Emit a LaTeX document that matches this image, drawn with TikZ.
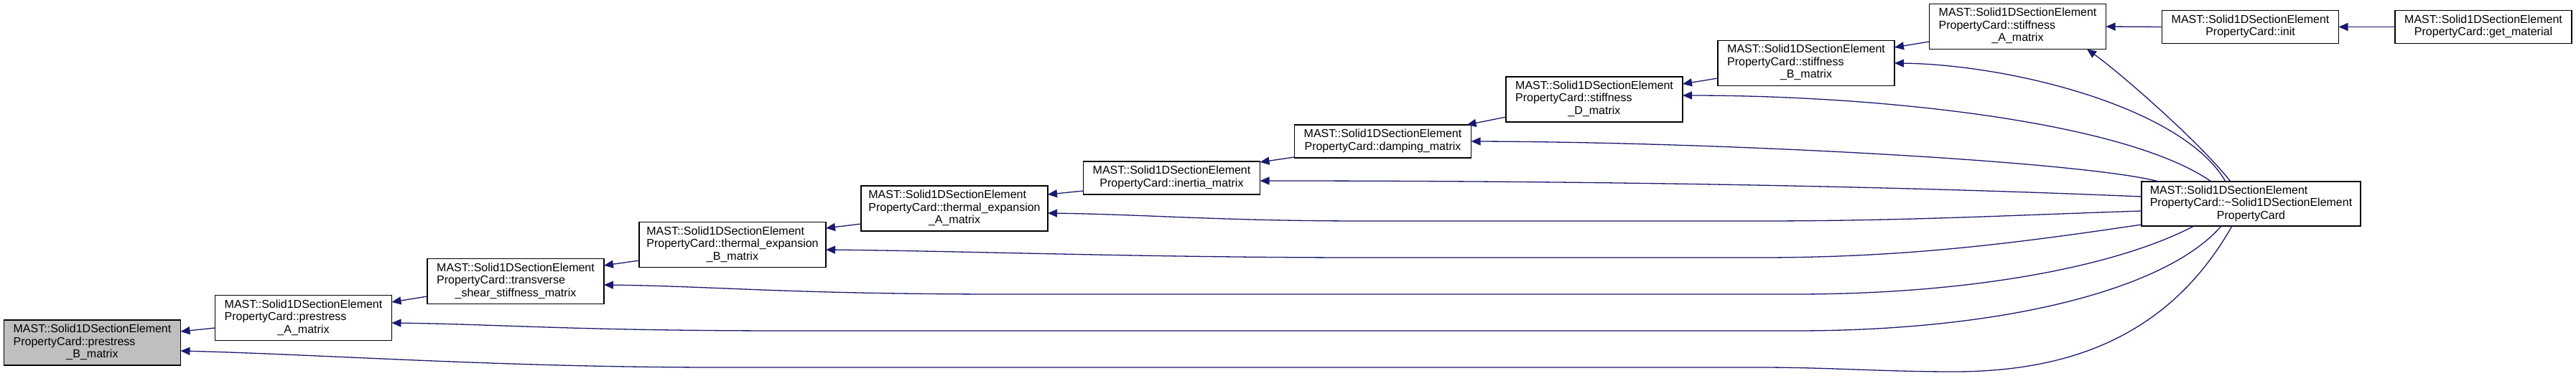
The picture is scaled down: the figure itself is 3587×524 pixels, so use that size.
\documentclass[tikz,border=0pt]{standalone}
\usepackage{fontspec}
\setmainfont{Liberation Sans}
\usetikzlibrary{arrows.meta, positioning, calc}

\definecolor{edgeblue}{HTML}{191970}
\definecolor{hlgray}{HTML}{BFBFBF}

\newcommand{\masttwo}[1]{%
  \begin{tabular}{@{}l@{}}MAST::Solid1DSectionElement\\
  \multicolumn{1}{@{}c@{}}{#1}\end{tabular}}
\newcommand{\mastthree}[2]{%
  \begin{tabular}{@{}l@{}}MAST::Solid1DSectionElement\\#1\\
  \multicolumn{1}{@{}c@{}}{#2}\end{tabular}}

\begin{document}
\begin{tikzpicture}[
  x=1pt, y=-1pt,
  fn/.style={
    rectangle,
    draw=black,
    line width=1.3pt,
    fill=white,
    minimum width=246pt,
    minimum height=63pt,
    inner xsep=10pt,
    inner ysep=0pt,
    outer sep=0pt,
    font=\fontsize{16}{17.5}\selectfont
  },
  fntwo/.style={
    fn,
    minimum height=46pt
  },
  hl/.style={
    fn,
    fill=hlgray
  },
  arrow/.style={-{Triangle[length=13pt, width=11pt, fill=edgeblue]}, line width=1.3pt, draw=edgeblue}
]

\useasboundingbox (0,0) rectangle (3587,524);

% ------------------------------------------------------------
% Member functions
% ------------------------------------------------------------

\node[hl] (prestB) at (128.5,477.5) {\mastthree{PropertyCard::prestress}{\_B\_matrix}};
\node[fn] (prestA) at (422.5,443) {\mastthree{PropertyCard::prestress}{\_A\_matrix}};
\node[fn] (transv) at (718,392) {\mastthree{PropertyCard::transverse}{\_shear\_stiffness\_matrix}};
\node[fn, minimum width=260pt] (thermB) at (1020,341) {\mastthree{PropertyCard::thermal\_expansion}{\_B\_matrix}};
\node[fn, minimum width=260pt] (thermA) at (1329,290.5) {\mastthree{PropertyCard::thermal\_expansion}{\_A\_matrix}};
\node[fntwo] (inertia) at (1631.5,248) {\masttwo{PropertyCard::inertia\_matrix}};
\node[fntwo] (damping) at (1925.5,197) {\masttwo{PropertyCard::damping\_matrix}};
\node[fn] (stiffD) at (2220,138.5) {\mastthree{PropertyCard::stiffness}{\_D\_matrix}};
\node[fn] (stiffB) at (2515,88) {\mastthree{PropertyCard::stiffness}{\_B\_matrix}};
\node[fn] (stiffA) at (2809.5,37) {\mastthree{PropertyCard::stiffness}{\_A\_matrix}};
\node[fntwo] (init) at (3133.5,37.5) {\masttwo{PropertyCard::init}};
\node[fntwo] (getmat) at (3458,37.5) {\masttwo{PropertyCard::get\_material}};
\node[fn, minimum width=305pt, minimum height=62pt] (dtor) at (3134.5,284)
  {\mastthree{PropertyCard::\textasciitilde Solid1DSectionElement}{PropertyCard}};

% ------------------------------------------------------------
% Direct callers
% ------------------------------------------------------------

\draw[arrow] ([yshift=-14pt]prestA.west) -- ([yshift=15.5pt]prestB.east);
\draw[arrow] ([yshift=-21pt]transv.west) -- ([yshift=22pt]prestA.east);
\draw[arrow] ([yshift=-22pt]thermB.west) -- ([yshift=22pt]transv.east);
\draw[arrow] ([yshift=-21.5pt]thermA.west) -- ([yshift=23pt]thermB.east);
\draw[arrow] ([yshift=-18pt]inertia.west) -- ([yshift=19.5pt]thermA.east);
\draw[arrow] ([yshift=-22pt]damping.west) -- ([yshift=22pt]inertia.east);
\draw[arrow] ([yshift=-24.5pt]stiffD.west) -- ([xshift=-6pt]damping.north east);
\draw[arrow] ([yshift=-21pt]stiffB.west) -- ([yshift=21.5pt]stiffD.east);
\draw[arrow] ([yshift=-21pt]stiffA.west) -- ([yshift=22pt]stiffB.east);
\draw[arrow] (init.west) -- (stiffA.east);
\draw[arrow] (getmat.west) -- (init.east);

% ------------------------------------------------------------
% Calls from the destructor
% ------------------------------------------------------------

\draw[arrow] ([xshift=-28.5pt]dtor.north) .. controls (3060,195) and (2950,100) .. ([xshift=96.5pt]stiffA.south);
\draw[arrow] ([xshift=-35.5pt]dtor.north) .. controls (3040,150) and (2800,90) .. (stiffB.east);
\draw[arrow] ([xshift=-55.5pt]dtor.north) .. controls (2960,170) and (2620,133) .. ([yshift=5.5pt]stiffD.east);
\draw[arrow] ([xshift=-128.5pt]dtor.north) .. controls (2900,225) and (2400,198) .. (damping.east);
\draw[arrow] ([yshift=10pt]dtor.west) .. controls (2700,262) and (2300,252) .. ([yshift=-4pt]inertia.east);
\draw[arrow] ([yshift=-10pt]dtor.west) .. controls (2800,300) and (2650,308) .. (2450,308)
  -- (1900,308) .. controls (1700,308) and (1600,299) .. ([yshift=-6.5pt]thermA.east);
\draw[arrow] ([yshift=-29pt]dtor.west) .. controls (2800,340) and (2650,359) .. (2450,359)
  -- (1900,359) .. controls (1600,359) and (1350,350) .. ([yshift=-7pt]thermB.east);
\draw[arrow] ([xshift=-79.5pt]dtor.south) .. controls (2950,370) and (2750,410) .. (2500,410)
  -- (1400,410) .. controls (1100,410) and (1000,399) .. ([yshift=-5pt]transv.east);
\draw[arrow] ([xshift=-41.5pt]dtor.south) .. controls (3020,400) and (2800,461) .. (2500,461)
  -- (1100,461) .. controls (800,461) and (700,452) .. ([yshift=-7pt]prestA.east);
\draw[arrow] ([xshift=-26.5pt]dtor.south) .. controls (3020,470) and (2880,518) .. (2720,518)
  .. controls (2620,518) and (2550,512) .. (2450,512)
  -- (1000,512) .. controls (700,512) and (450,494) .. ([yshift=-11.5pt]prestB.east);

\end{tikzpicture}
\end{document}
